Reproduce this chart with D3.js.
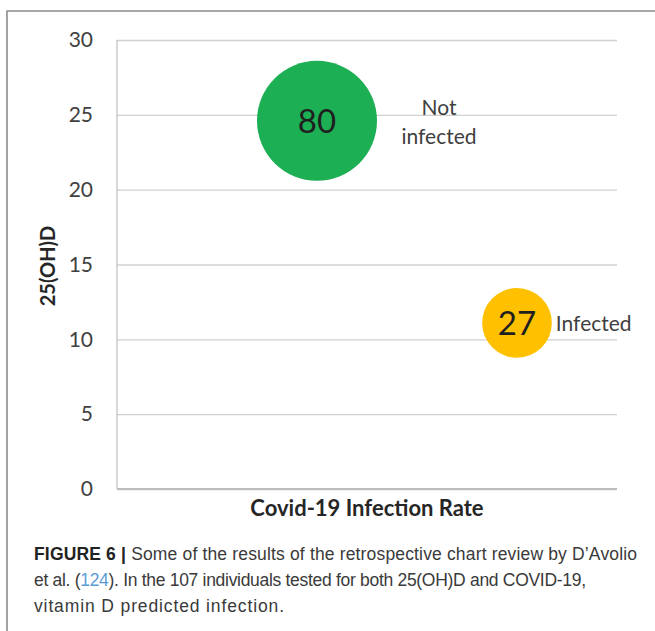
<!DOCTYPE html>
<html>
<head>
<meta charset="utf-8">
<script src="https://cdn.jsdelivr.net/npm/d3@7"></script>
<style>
  html, body { margin: 0; padding: 0; background: #fff; }
  svg { display: block; }
</style>
</head>
<body>
<svg id="chart" width="655" height="631"></svg>
<script>
// Groups plotted as bubbles: x slot, mean 25(OH)D, and number of individuals
const groups = ["Not infected", "Infected"];
const groupLabelLines = [["Not", "infected"], ["Infected"]];
const xSlots = [1, 2];
const vitaminD = [24.6, 11.1];
const counts = [80, 27];
const yTicks = [0, 5, 10, 15, 20, 25, 30];

const svg = d3.select("#chart");
const W = 655, H = 631;
const chartFont = "Lato, 'Open Sans', sans-serif";
const captionFont = "'Liberation Sans', Arial, sans-serif";

// figure frame
svg.append("path")
  .attr("d", `M7,${H + 2} L7,11 L${W + 2},11`)
  .attr("fill", "none")
  .attr("stroke", "#8c8c8c")
  .attr("stroke-width", 1.6);

const plot = { left: 117, right: 617, top: 40, bottom: 489 };

const x = d3.scaleLinear().domain([0, 2.5]).range([plot.left, plot.right]);
const y = d3.scaleLinear().domain([0, 30]).range([plot.bottom, plot.top]);
const r = d3.scaleSqrt().domain([0, 80]).range([0, 60]);

// horizontal gridlines + tick labels
const yAxis = svg.append("g")
  .attr("transform", `translate(${plot.left},0)`)
  .call(d3.axisLeft(y).tickValues(yTicks).tickSize(-(plot.right - plot.left)).tickPadding(24).tickFormat(d3.format("d")));
yAxis.select(".domain").remove();
yAxis.selectAll(".tick line").attr("stroke", "#d0d0d0").attr("stroke-width", 1.3);
yAxis.selectAll(".tick text")
  .attr("fill", "#404040")
  .style("font-family", chartFont)
  .style("font-size", "21px");

// vertical axis line and baseline
svg.append("line")
  .attr("x1", plot.left).attr("x2", plot.left)
  .attr("y1", y(30)).attr("y2", y(0))
  .attr("stroke", "#c4c4c4").attr("stroke-width", 1.3);
svg.append("line")
  .attr("x1", plot.left).attr("x2", plot.right)
  .attr("y1", y(0)).attr("y2", y(0))
  .attr("stroke", "#bdbdbd").attr("stroke-width", 1.8);

// axis titles
svg.append("text")
  .attr("transform", `translate(55,266) rotate(-90)`)
  .attr("text-anchor", "middle")
  .attr("fill", "#262626")
  .style("font-family", chartFont)
  .style("font-weight", "bold")
  .style("font-size", "20px")
  .text("25(OH)D");

svg.append("text")
  .attr("x", 367).attr("y", 516)
  .attr("text-anchor", "middle")
  .attr("fill", "#262626")
  .style("font-family", chartFont)
  .style("font-weight", "bold")
  .style("font-size", "22px")
  .text("Covid-19 Infection Rate");

// bubbles
const fills = ["#1daf54", "#ffc000"];
const labelGap = [22, 4];
const data = groups.map((g, i) => ({
  name: g, lines: groupLabelLines[i], x: xSlots[i], y: vitaminD[i], n: counts[i],
  fill: fills[i], gap: labelGap[i]
}));

svg.append("g").selectAll("circle")
  .data(data).join("circle")
  .attr("cx", d => x(d.x))
  .attr("cy", d => y(d.y))
  .attr("r", d => r(d.n))
  .attr("fill", d => d.fill);

// counts inside bubbles
svg.append("g").selectAll("text")
  .data(data).join("text")
  .attr("x", d => x(d.x))
  .attr("y", d => y(d.y) + 12)
  .attr("text-anchor", "middle")
  .attr("fill", "#1f1f1f")
  .style("font-family", chartFont)
  .style("font-size", "33px")
  .text(d => d.n);

// group names beside bubbles
data.forEach(d => {
  const multi = d.lines.length > 1;
  const t = svg.append("text")
    .attr("fill", "#404040")
    .style("font-family", chartFont)
    .style("font-size", "21px")
    .attr("text-anchor", multi ? "middle" : "start");
  const lx = x(d.x) + r(d.n) + d.gap + (multi ? 40 : 0);
  const ly0 = y(d.y) + (multi ? -6 : 8);
  d.lines.forEach((line, k) => {
    t.append("tspan")
      .attr("x", lx)
      .attr("y", ly0 + k * 29)
      .text(line);
  });
});

// caption (three set lines, each fitted to its column width)
const cap = svg.append("g")
  .style("font-family", captionFont)
  .style("font-size", "17.5px")
  .attr("fill", "#3a3a3a");

const capX = 34;
const l1 = cap.append("text").attr("x", capX).attr("y", 560)
  .attr("textLength", 603).attr("lengthAdjust", "spacing");
l1.append("tspan").style("font-weight", "bold").attr("fill", "#222").text("FIGURE 6 | ");
l1.append("tspan").text("Some of the results of the retrospective chart review by D\u2019Avolio");

const l2 = cap.append("text").attr("x", capX).attr("y", 586)
  .attr("textLength", 552).attr("lengthAdjust", "spacing");
l2.append("tspan").text("et al. (");
l2.append("tspan").attr("fill", "#5b9bd5").text("124");
l2.append("tspan").text("). In the 107 individuals tested for both 25(OH)D and COVID-19,");

cap.append("text").attr("x", capX).attr("y", 612)
  .attr("textLength", 250).attr("lengthAdjust", "spacing")
  .text("vitamin D predicted infection.");
</script>
</body>
</html>
